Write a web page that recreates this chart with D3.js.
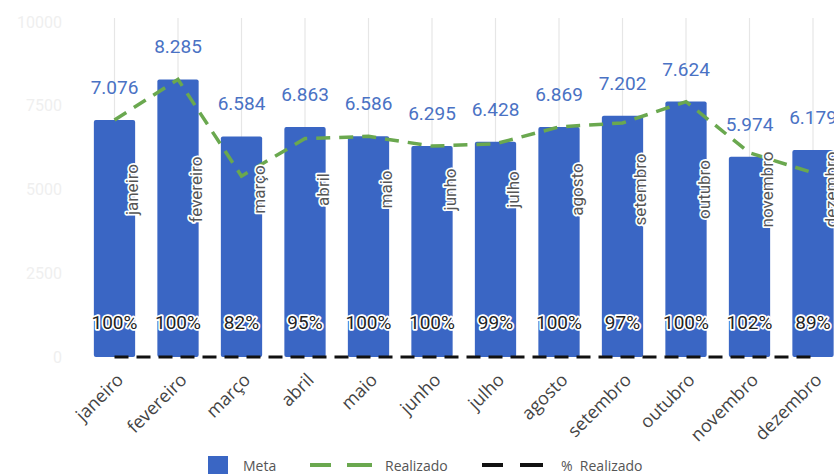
<!DOCTYPE html>
<meta charset="utf-8" />
<script src="https://d3js.org/d3.v7.min.js"></script>
<style>
  body { margin: 0; background: #fff; }
  svg text { font-family: "Open Sans", sans-serif; }
</style>
<div id="my_dataviz"></div>
<script>
  // data
  var months = ["janeiro", "fevereiro", "março", "abril", "maio", "junho",
    "julho", "agosto", "setembro", "outubro", "novembro", "dezembro"];
  var meta = [7076, 8285, 6584, 6863, 6586, 6295, 6428, 6869, 7202, 7624, 5974, 6179];
  var pct = [100, 100, 82, 95, 100, 100, 99, 100, 97, 100, 102, 89];
  var yTicks = [0, 2500, 5000, 7500, 10000];

  var realizado = meta.map(function (m, i) { return m * pct[i] / 100; });

  var width = 834, height = 474;
  var svg = d3.select("#my_dataviz").append("svg")
    .attr("width", width).attr("height", height);

  var x = d3.scaleBand().domain(months).range([82.75, 844.75])
    .paddingInner(0.35).paddingOuter(0.175);
  var y = d3.scaleLinear().domain([0, 10000]).range([357, 22]);
  var cx = function (m) { return x(m) + x.bandwidth() / 2; };

  // faint y axis
  var yAxis = svg.append("g").attr("transform", "translate(66,0)")
    .call(d3.axisLeft(y).tickValues(yTicks).tickFormat(d3.format("d"))
      .tickSize(0).tickPadding(4));
  yAxis.select(".domain").remove();
  yAxis.selectAll("text").attr("fill", "#efefef")
    .style("font-family", "Roboto").style("font-size", "16px");

  // vertical grid lines
  svg.append("g").selectAll("line").data(months).enter().append("line")
    .attr("x1", cx).attr("x2", cx)
    .attr("y1", 18).attr("y2", y(0))
    .attr("stroke", "#e6e6e6").attr("stroke-width", 1.2);

  // bars
  svg.append("g").selectAll("rect").data(months).enter().append("rect")
    .attr("x", function (d) { return x(d); })
    .attr("y", function (d, i) { return y(meta[i]); })
    .attr("width", x.bandwidth())
    .attr("height", function (d, i) { return y(0) - y(meta[i]); })
    .attr("rx", 2)
    .attr("fill", "#3a66c4");

  // Realizado line
  var line = d3.line()
    .x(function (d, i) { return cx(months[i]); })
    .y(function (d) { return y(d); });
  svg.append("path").datum(realizado)
    .attr("d", line).attr("fill", "none")
    .attr("stroke", "#6aa84f").attr("stroke-width", 3.5)
    .attr("stroke-dasharray", "14,9");

  // % Realizado line (fraction on the same axis)
  svg.append("path").datum(pct.map(function (p) { return p / 100; }))
    .attr("d", line).attr("fill", "none")
    .attr("stroke", "#111").attr("stroke-width", 3)
    .attr("stroke-dasharray", "14,8");

  // text with a white halo: one stroked copy below, one filled copy on top
  function haloText(g, data, place, label, fill, size) {
    ["halo", "fill"].forEach(function (k) {
      var t = g.append("g").selectAll("text").data(data).enter().append("text")
        .each(place)
        .style("font-family", "Roboto").style("font-size", size)
        .text(label);
      if (k == "halo") {
        t.attr("fill", "#fff").attr("stroke", "#fff")
          .attr("stroke-width", 3.5).attr("stroke-linejoin", "round");
      } else {
        t.attr("fill", fill);
      }
    });
  }

  // month names inside bars
  haloText(svg.append("g"), months, function (d) {
    d3.select(this)
      .attr("transform", "translate(" + (cx(d) + 18) + "," + y(5000) + ") rotate(-90)")
      .attr("text-anchor", "middle").attr("dy", "0.35em");
  }, function (d) { return d; }, "#555", "17px");

  // value labels
  var fmt = function (v) { return d3.format(",")(v).replace(/,/g, "."); };
  svg.append("g").selectAll("text").data(meta).enter().append("text")
    .attr("x", function (d, i) { return cx(months[i]); })
    .attr("y", function (d) { return y(d) - 26; })
    .attr("text-anchor", "middle")
    .attr("fill", "#4a72c4")
    .style("font-family", "Roboto").style("font-size", "19px")
    .text(fmt);

  // percentage labels
  haloText(svg.append("g"), pct, function (d, i) {
    d3.select(this).attr("x", cx(months[i])).attr("y", 329)
      .attr("text-anchor", "middle");
  }, function (d) { return d + "%"; }, "#222", "19px");

  // x axis labels
  svg.append("g").selectAll("text").data(months).enter().append("text")
    .attr("transform", function (d) {
      return "translate(" + (cx(d) + 10) + ",381) rotate(-45)";
    })
    .attr("text-anchor", "end")
    .attr("fill", "#444")
    .style("font-size", "18px")
    .text(function (d) { return d; });

  // legend
  var lg = svg.append("g").style("font-size", "14px");
  lg.append("rect").attr("x", 208).attr("y", 456).attr("width", 20).attr("height", 20)
    .attr("fill", "#3a66c4");
  lg.append("text").attr("x", 243).attr("y", 471).attr("fill", "#555").text("Meta");
  [[310, 331], [347, 372]].forEach(function (s) {
    lg.append("line").attr("x1", s[0]).attr("x2", s[1]).attr("y1", 465).attr("y2", 465)
      .attr("stroke", "#6aa84f").attr("stroke-width", 4);
  });
  lg.append("text").attr("x", 385).attr("y", 471).attr("fill", "#555").text("Realizado");
  [[482, 503], [520, 543]].forEach(function (s) {
    lg.append("line").attr("x1", s[0]).attr("x2", s[1]).attr("y1", 465).attr("y2", 465)
      .attr("stroke", "#111").attr("stroke-width", 4);
  });
  lg.append("text").attr("x", 561).attr("y", 471).attr("fill", "#555")
    .attr("xml:space", "preserve").text("%  Realizado");
</script>
